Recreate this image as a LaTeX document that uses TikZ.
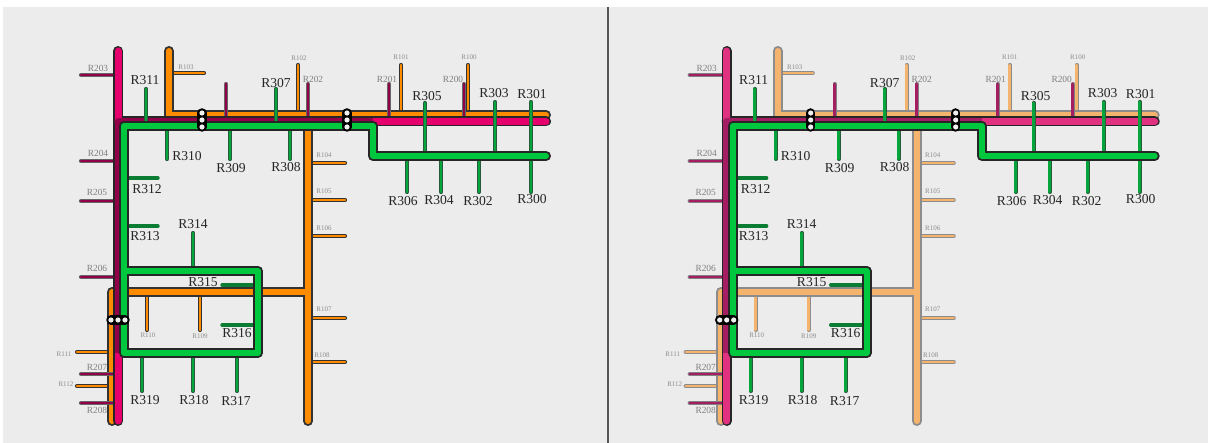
\documentclass[tikz,border=0pt]{standalone}
\usepackage{fontspec}
\setmainfont{Liberation Serif}
\usepackage{tikz}

\tikzset{
  mainline/.style={line width=6pt, line cap=round, line join=round},
  mainedge/.style={line width=10pt, black!85, line cap=round, line join=round},
  stubline/.style={line width=2.8pt, line cap=round},
  stubedge/.style={line width=4.2pt, line cap=round},
  biglabel/.style={font=\fontsize{13.6}{14}\selectfont, text=black!85, inner sep=0pt},
  midlabel/.style={font=\fontsize{9.4}{10}\selectfont, text=black!50, inner sep=0pt},
  minilabel/.style={font=\fontsize{7}{8}\selectfont, text=black!45, inner sep=0pt},
  stopdot/.style={circle, fill=black!6, inner sep=0pt, minimum size=5.2pt}
}

\definecolor{panelbg}{RGB}{236,236,236}
\definecolor{panelrule}{RGB}{85,85,85}
\definecolor{greenmain}{RGB}{0,200,62}
\definecolor{greenstub}{RGB}{5,165,60}
\definecolor{greenside}{RGB}{10,125,50}
\definecolor{greenedge}{RGB}{40,90,60}

\newcommand{\orangestubs}{169/73/204/73, 298/115/298/65, 401/115/401/65, 468/115/468/65,
  308/163/345/163, 308/200/345/200, 308/236/345/236, 308/318/345/318, 308/362/345/362,
  147/292/147/330, 200/292/200/330, 112/352/77/352, 112/386/77/386}
\newcommand{\magentastubs}{118/75/81/75, 118/161/81/161, 118/201/81/201, 118/277/81/277,
  118/374/81/374, 118/403/81/403, 226/121/226/84, 308/121/308/84, 389/121/389/84, 464/121/464/84}
\newcommand{\greenstubs}{146/125/146/89, 276/125/276/89, 167/125/167/159, 230/125/230/159, 290/125/290/159,
  193/271/193/233, 142/353/142/391, 193/353/193/391, 237/353/237/391, 425/156/425/103, 495/156/495/102,
  531/156/531/102, 407/156/407/192, 441/156/441/192, 479/156/479/192, 531/156/531/192}

% one panel; arguments: orange fill, orange edge, magenta fill, magenta edge, magenta stub, name prefix
\newcommand{\drawmap}[6]{
  % orange branches
  \foreach \xa/\ya/\xb/\yb in \orangestubs
    \draw[stubedge, #2] (\xa,\ya) -- (\xb,\yb);
  \foreach \xa/\ya/\xb/\yb in \orangestubs
    \draw[stubline, #1] (\xa,\ya) -- (\xb,\yb);
  % orange line
  \draw[mainedge, #2] (169,51) -- (169,115) -- (546,115);
  \draw[mainedge, #2] (308,115) -- (308,421);
  \draw[mainedge, #2] (112,421) -- (112,292) -- (308,292);
  \draw[mainline, #1] (169,51) -- (169,115) -- (546,115);
  \draw[mainline, #1] (308,115) -- (308,421);
  \draw[mainline, #1] (112,421) -- (112,292) -- (308,292);
  % magenta branches
  \foreach \xa/\ya/\xb/\yb in \magentastubs
    \draw[stubedge, #4] (\xa,\ya) -- (\xb,\yb);
  \foreach \xa/\ya/\xb/\yb in \magentastubs
    \draw[stubline, #5] (\xa,\ya) -- (\xb,\yb);
  % magenta line
  \draw[mainedge] (118,51) -- (118,421);
  \draw[mainedge] (118,121.5) -- (546,121.5);
  \draw[mainline, line width=7pt, #3] (118,51) -- (118,421);
  \draw[mainline, line width=7pt, #3] (118,121.5) -- (546,121.5);
  \draw[line width=7pt, line join=round, #5] (118,353) -- (118,121.5) -- (373,121.5);
  % green branches
  \foreach \xa/\ya/\xb/\yb in \greenstubs
    \draw[stubedge, greenedge] (\xa,\ya) -- (\xb,\yb);
  \foreach \xa/\ya/\xb/\yb in \greenstubs
    \draw[stubline, greenstub] (\xa,\ya) -- (\xb,\yb);
  \foreach \xa/\ya/\xb/\yb in {124/178/158/178, 124/226/158/226, 258/285/222/285, 258/325/222/325}
    \draw[stubline, line width=3.4pt, greenside] (\xa,\ya) -- (\xb,\yb);
  % green line
  \draw[mainedge] (546,156) -- (373,156) -- (373,125.7) -- (124,125.7) -- (124,353) -- (258,353) -- (258,271) -- (124,271);
  \draw[mainline, greenmain] (546,156) -- (373,156) -- (373,125.7) -- (124,125.7) -- (124,353) -- (258,353) -- (258,271) -- (124,271);
  % stops
  \foreach \nm/\xa/\ya/\xb/\yb in {#6a/202/113/202/127, #6b/347/113/347/127, #6c/111/320/125/320}{
    \node[stopdot] (\nm1) at (\xa,\ya) {};
    \node[stopdot] (\nm3) at (\xb,\yb) {};
    \draw[line width=9.5pt, black, line cap=round] (\nm1.center) -- (\nm3.center);
    \node[stopdot] (\nm1) at (\xa,\ya) {};
    \node[stopdot] (\nm2) at ({(\xa+\xb)/2},{(\ya+\yb)/2}) {};
    \node[stopdot] (\nm3) at (\xb,\yb) {};
  }
  % labels
  \foreach \x/\y/\t in {145/80/R311, 276/83/R307, 187/156/R310, 231/168/R309, 286/167/R308, 147/189/R312,
      145/236/R313, 193/224/R314, 203/282/R315, 237/333/R316, 145/400/R319, 194/400/R318, 236/401/R317,
      427/96/R305, 494/93/R303, 532/94/R301, 403/201/R306, 439/200/R304, 478/201/R302, 532/199/R300}
    \node[biglabel] (#6\t) at (\x,\y) {\t};
  \foreach \x/\y/\t in {98/68/R203, 98/153/R204, 97/192/R205, 97/268/R206, 97/367/R207, 97/410/R208,
      313/79/R202, 387/79/R201, 453/79/R200}
    \node[midlabel] (#6\t) at (\x,\y) {\t};
  \foreach \x/\y/\t in {186/67/R103, 299/58/R102, 401/57/R101, 469/57/R100, 324/155/R104, 324/191/R105,
      324/228/R106, 324/309/R107, 322/355/R108, 148/335/R110, 200/336/R109, 64/354/R111, 66/384/R112}
    \node[minilabel] (#6\t) at (\x,\y) {\t};
}

\begin{document}
\begin{tikzpicture}[x=1pt, y=-1pt]
  \useasboundingbox (0,0) rectangle (1211,443);
  \fill[white] (0,0) rectangle (1211,443);
  \fill[panelbg] (3,7) rectangle (1208,443);
  \draw[panelrule, line width=1.2pt] (608,7) -- (608,443);

  % left panel
  \definecolor{orangemain}{RGB}{255,140,0}
  \definecolor{magentamain}{RGB}{230,0,110}
  \definecolor{magentastub}{RGB}{145,0,72}
  \drawmap{orangemain}{black!80}{magentamain}{black!60}{magentastub}{l}

  % right panel
  \definecolor{orangepale}{RGB}{245,180,110}
  \definecolor{magentapale}{RGB}{225,50,130}
  \definecolor{magentadull}{RGB}{165,30,100}
  \begin{scope}[xshift=608.7pt]
    \drawmap{orangepale}{black!45}{magentapale}{black!50}{magentadull}{r}
  \end{scope}
\end{tikzpicture}
\end{document}
